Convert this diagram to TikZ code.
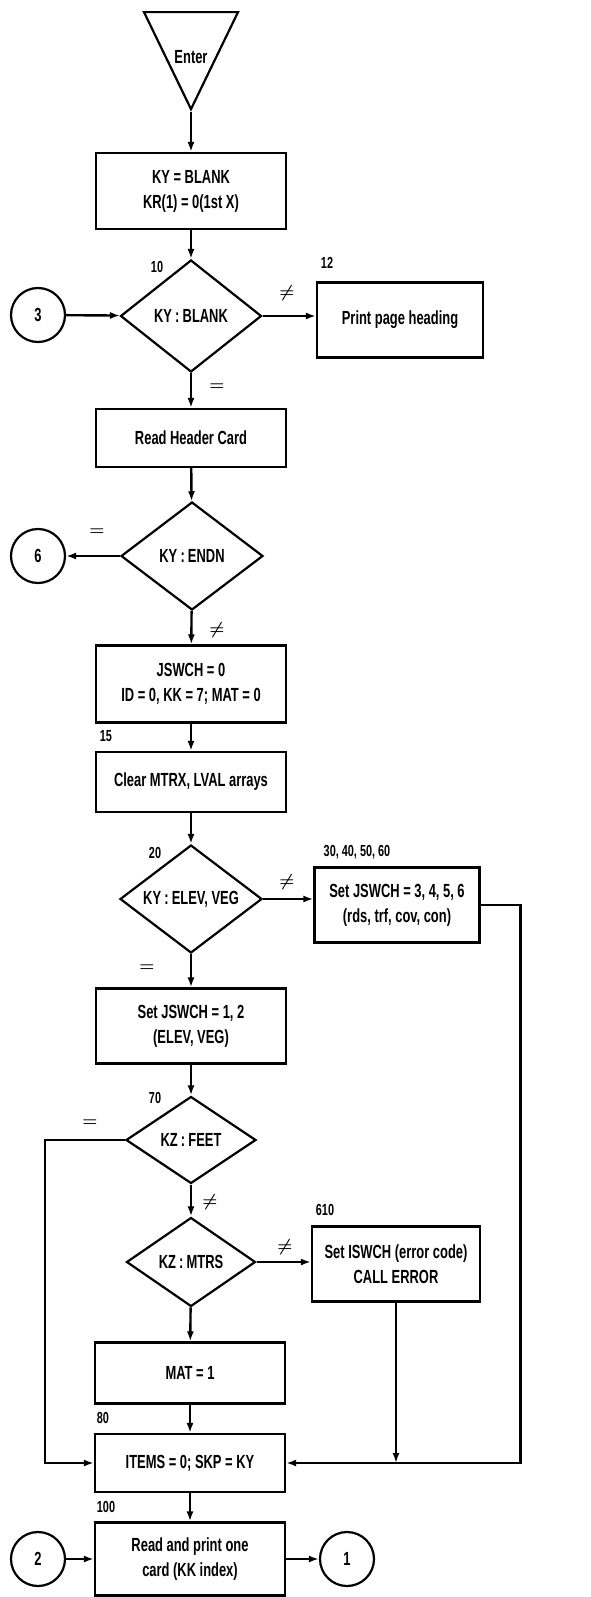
\documentclass[tikz,border=0pt]{standalone}
\usepackage{fontspec}
\setmainfont{Liberation Sans}[FakeStretch=0.68]
\usetikzlibrary{shapes.geometric,arrows.meta}
\tikzset{
box/.style={draw,line width=2.2pt,minimum width=190pt,align=center,inner sep=2pt},
rbox/.style={draw,line width=2.2pt,minimum height=75pt,align=center,inner sep=2pt},
dia/.style={draw,diamond,line width=2.2pt,inner sep=0pt},
circ/.style={draw,circle,line width=2.2pt,minimum size=54pt,inner sep=0pt},
tri/.style={draw,isosceles triangle,shape border rotate=270,isosceles triangle stretches,line width=2.2pt,inner sep=0pt},
num/.style={font=\fontsize{16}{16}\selectfont\bfseries,inner sep=0pt},
sgn/.style={font=\fontsize{16}{16}\selectfont\boldmath,inner sep=0pt}
}
\begin{document}
\begin{tikzpicture}[x=1pt,y=-1pt,line width=2.4pt,>={Latex[length=10pt,width=7pt]},
  font=\fontsize{19}{25}\selectfont\bfseries]
\useasboundingbox (0,0) rectangle (590,1597);
\node[tri,minimum width=94pt,minimum height=97pt,anchor=apex](t0) at (191,112){};
\node(en) at (191,57){Enter};
\node[box,minimum height=76pt](b1) at (191,191){KY = BLANK\\KR(1) = 0(1st X)};
\node[dia,minimum width=141pt,minimum height=112pt,label=center:{KY\,:\,BLANK}](d1) at (191,316){};
\node[rbox,minimum width=166pt](r1) at (400,320){Print page heading};
\node[circ](c3) at (38,315){3};
\node[box,minimum height=58pt](b2) at (191,438){Read Header Card};
\node[dia,minimum width=142pt,minimum height=108pt,label=center:{KY\,:\,ENDN}](d2) at (192,556){};
\node[circ](c6) at (38,556){6};
\node[box,minimum height=77pt](b3) at (191,684){JSWCH = 0\\ID = 0, KK = 7; MAT = 0};
\node[box,minimum height=60pt](b4) at (191,782){Clear MTRX, LVAL arrays};
\node[dia,minimum width=142pt,minimum height=108pt,label=center:{KY\,:\,ELEV, VEG}](d3) at (191,899){};
\node[rbox,minimum width=165pt](r2) at (397,905){Set JSWCH = 3, 4, 5, 6\\(rds, trf, cov, con)};
\node[box,minimum height=75pt](b5) at (191,1026){Set JSWCH = 1, 2\\(ELEV, VEG)};
\node[dia,minimum width=130pt,minimum height=87pt,label=center:{KZ\,:\,FEET}](d4) at (191,1140){};
\node[dia,minimum width=129pt,minimum height=89pt,label=center:{KZ\,:\,MTRS}](d5) at (191,1262){};
\node[rbox,minimum width=168pt](r3) at (396,1264){Set ISWCH (error code)\\CALL ERROR};
\node[box,minimum height=61pt](b6) at (190,1373){MAT = 1};
\node[box,minimum height=58pt](b7) at (190,1463){ITEMS = 0; SKP = KY};
\node[box,minimum height=73pt](b8) at (190,1559){Read and print one\\card (KK index)};
\node[circ](c2) at (38,1559){2};
\node[circ](c1) at (347,1559){1};
\node[num](n10) at (157,267){10};
\node[num](n12) at (327,263){12};
\node[num](n15) at (106,736){15};
\node[num](n20) at (155,853){20};
\node[num](n30) at (357,852){30, 40, 50, 60};
\node[num](n70) at (155,1098){70};
\node[num](n610) at (325,1210){610};
\node[num](n80) at (103,1418){80};
\node[num](n100) at (106,1507){100};
\node[sgn](s1) at (287,293){$\neq$};
\node[sgn](s2) at (217,387){$=$};
\node[sgn](s3) at (97,532){$=$};
\node[sgn](s4) at (217,630){$\neq$};
\node[sgn](s5) at (287,882){$\neq$};
\node[sgn](s6) at (147,968){$=$};
\node[sgn](s7) at (90,1123){$=$};
\node[sgn](s8) at (210,1202){$\neq$};
\node[sgn](s9) at (285,1247){$\neq$};
\draw[->](t0.apex) -- (b1);
\draw[->](b1) -- (d1);
\draw[->](c3) -- (d1);
\draw[->](d1.east) -- (d1.east -| r1.west);
\draw[->](d1) -- (b2);
\draw[->](b2) -- (d2);
\draw[->](d2) -- (c6);
\draw[->](d2) -- (b3);
\draw[->](b3) -- (b4);
\draw[->](b4) -- (d3);
\draw[->](d3.east) -- (d3.east -| r2.west);
\draw[->](d3) -- (b5);
\draw[->](b5) -- (d4);
\draw[->](d4) -- (d5);
\draw[->](d5.east) -- (d5.east -| r3.west);
\draw[->](d5) -- (b6);
\draw[->](b6) -- (b7);
\draw[->](d4.west) -- ++(-80,0) |- (b7.west);
\draw[->](r2.east) -- ++(40,0) |- (b7.east);
\draw[->](r3.south) -- (r3.south |- b7.east);
\draw[->](b7) -- (b8);
\draw[->](c2) -- (b8);
\draw[->](b8) -- (c1);
\end{tikzpicture}
\end{document}
